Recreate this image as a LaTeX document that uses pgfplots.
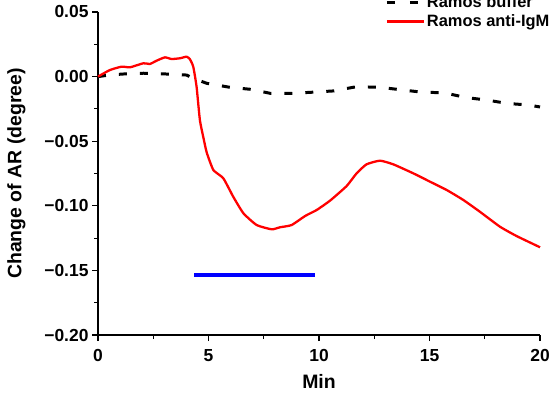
\documentclass[border=0pt]{standalone}
\usepackage{fontspec}
\setmainfont{Liberation Sans}
\usepackage{pgfplots}
\pgfplotsset{compat=1.18}
\begin{document}
\begin{tikzpicture}[x=1bp,y=1bp]
\path[use as bounding box] (0,0) rectangle (552,394);
\begin{axis}[
  at={(98bp,59bp)}, anchor=south west,
  width=442bp, height=323bp, scale only axis,
  xmin=0, xmax=20, ymin=-0.20, ymax=0.05,
  axis x line*=bottom, axis y line*=left,
  axis line style={line width=1.2pt, -},
  xtick={0,5,10,15,20},
  xticklabels={0,5,10,15,20},
  ytick={-0.20,-0.15,-0.10,-0.05,0,0.05},
  yticklabels={−0.20,−0.15,−0.10,−0.05,0.00,0.05},
  minor xtick={2.5,7.5,12.5,17.5},
  minor ytick={-0.175,-0.125,-0.075,-0.025,0.025},
  tick align=outside,
  major tick length=6bp, minor tick length=4bp,
  tick style={line width=1.1pt, black},
  ticklabel style={font=\fontsize{17.5}{19}\selectfont\bfseries},
  xticklabel style={yshift=-5bp},
  xlabel={Min}, ylabel={Change of AR (degree)},
  label style={font=\fontsize{19.5}{21}\selectfont\bfseries},
  xlabel style={yshift=-6bp},
  ylabel style={yshift=12bp},
  legend cell align=left,
  legend style={draw=none, fill=none, at={(rel axis cs:0.643,1.064)}, anchor=north west,
    font=\fontsize{16.5}{18}\selectfont\bfseries, row sep=2bp},
  clip=false,
]
\addplot[black, line width=3pt, dash pattern=on 8bp off 13bp,
  legend image code/.code={\draw[black, line width=2.8pt] (0bp,0bp)--(12bp,0bp) (23bp,0bp)--(35bp,0bp);}]
  coordinates {
(0,0) (0.5,0.0012) (1.14,0.002) (2.05,0.0026) (3.1,0.002) (4.01,0.0012) (4.31,-0.0013)
(4.92,-0.0052) (5.97,-0.0083) (6.88,-0.0098) (7.78,-0.0129) (8.69,-0.013) (9.59,-0.0122)
(10.65,-0.0111) (11.70,-0.0078) (12.76,-0.0083) (13.81,-0.0104) (14.72,-0.0122)
(15.62,-0.0124) (16.68,-0.0163) (17.58,-0.0181) (18.49,-0.0207) (19.47,-0.0220) (20,-0.0235)
};
\addlegendentry{Ramos buffer}
\addplot[red, line width=2.3pt, smooth, tension=0.3,
  legend image code/.code={\draw[red, line width=2.3pt] (0bp,0bp)--(37bp,0bp);}]
  coordinates {
(0,0) (0.54,0.0051) (1.07,0.0077) (1.45,0.0072) (2.05,0.0103) (2.35,0.0098) (2.65,0.0123)
(3.03,0.0149) (3.33,0.0136) (3.71,0.0142) (4.01,0.0154) (4.16,0.0134) (4.31,0.0077)
(4.46,-0.0078) (4.61,-0.0336) (4.77,-0.0473) (4.92,-0.0588) (5.22,-0.0723) (5.67,-0.0787)
(6.12,-0.0930) (6.58,-0.1058) (7.18,-0.1149) (7.86,-0.1182) (8.24,-0.1166) (8.76,-0.1149)
(9.37,-0.1079) (9.89,-0.1033) (10.5,-0.0960) (11.25,-0.0847) (11.70,-0.0749) (12.15,-0.0679)
(12.76,-0.0651) (13.36,-0.0679) (14.27,-0.0749) (15.02,-0.0813) (15.78,-0.0878)
(16.53,-0.0955) (17.28,-0.1046) (18.19,-0.1162) (18.94,-0.1234) (20,-0.1321)
};
\addlegendentry{Ramos anti-IgM}
\addplot[blue, line width=3.2pt, forget plot] coordinates {(4.35,-0.1536) (9.82,-0.1536)};
\end{axis}
\end{tikzpicture}
\end{document}
